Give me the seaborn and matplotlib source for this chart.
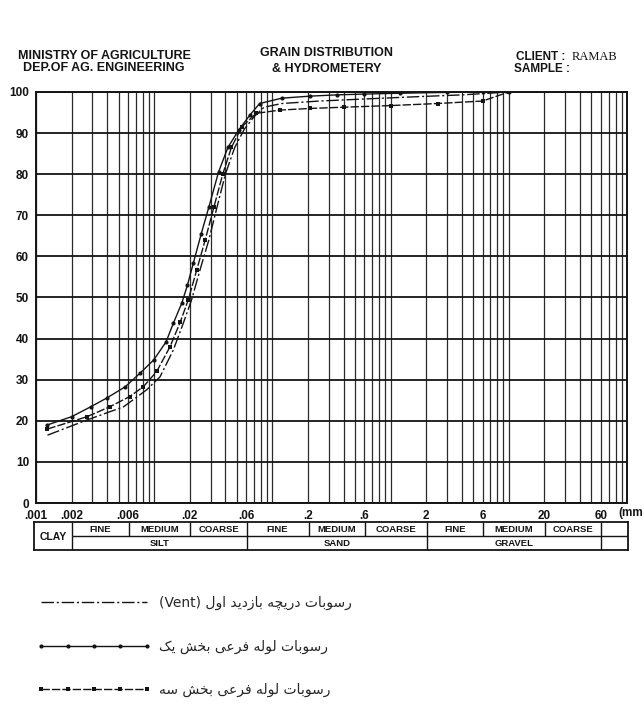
import numpy as np
import pandas as pd
import matplotlib
matplotlib.use('Agg')
import matplotlib.pyplot as plt
import seaborn as sns
from matplotlib import font_manager
from matplotlib.ft2font import FT2Font

# grain size (mm) and percent passing
vent_d = [0.00125, 0.0027, 0.0055, 0.0086, 0.0112, 0.0145, 0.0176, 0.0207, 0.0244, 0.029,
          0.034, 0.04, 0.048, 0.058, 0.07, 0.085, 0.12, 0.25, 0.6, 1.5, 4, 10]
vent_p = [16.5, 20.2, 23.4, 27.5, 30.7, 37.2, 43.7, 49.4, 56.7, 64,
          72, 80, 86.5, 91, 94, 96.3, 97.2, 97.8, 98.3, 98.8, 99.3, 100]

one_d = [0.00125, 0.002, 0.0029, 0.004, 0.0057, 0.0076, 0.0099, 0.0126, 0.0145, 0.0171,
         0.0191, 0.0214, 0.025, 0.029, 0.035, 0.042, 0.052, 0.065, 0.078, 0.12,
         0.21, 0.35, 0.6, 1.2, 3, 6, 10]
one_p = [19.0, 21.0, 23.4, 25.6, 28.3, 31.6, 34.8, 39.2, 43.7, 48.6,
         53.0, 58.3, 65.5, 72, 80.5, 86.5, 90.8, 94.5, 97.2, 98.5,
         99.0, 99.3, 99.5, 99.7, 99.9, 100, 100]

three_d = [0.00125, 0.0027, 0.0042, 0.0062, 0.0081, 0.0105, 0.0136, 0.0166, 0.0194, 0.0229,
           0.027, 0.032, 0.038, 0.045, 0.055, 0.073, 0.116, 0.21, 0.4, 1.0, 2.5, 6, 10]
three_p = [18.0, 21.0, 23.4, 25.9, 28.3, 32.0, 38.0, 44.0, 49.4, 56.7,
           64, 72, 80, 86.5, 91.5, 94.8, 95.6, 96.0, 96.3, 96.7, 97.2, 97.8, 100]

x_tick_vals = [0.001, 0.002, 0.006, 0.02, 0.06, 0.2, 0.6, 2, 6, 20, 60]
x_tick_text = ['.001', '.002', '.006', '.02', '.06', '.2', '.6', '2', '6', '20', '60']
y_ticks = list(range(0, 101, 10))

# classification table under the x axis
row1_edges = [0.001, 0.002, 0.006, 0.02, 0.06, 0.2, 0.6, 2, 6, 20, 60, 100]
row1_labels = ['', 'FINE', 'MEDIUM', 'COARSE', 'FINE', 'MEDIUM', 'COARSE', 'FINE', 'MEDIUM', 'COARSE', '']
row2_edges = [0.002, 0.06, 2, 60, 100]
row2_labels = ['SILT', 'SAND', 'GRAVEL', '']

leg_vent = 'رسوبات دریچه بازدید اول'
leg_one = 'رسوبات لوله فرعی بخش یک'
leg_three = 'رسوبات لوله فرعی بخش سه'

# --- minimal arabic/persian shaping (matplotlib does no shaping / bidi) ---
cmap = FT2Font(font_manager.findfont('DejaVu Sans')).get_charmap()
FORMS = {
    'ا': ('\uFE8D', '\uFE8E'), 'ب': ('\uFE8F', '\uFE90', '\uFE91', '\uFE92'),
    'ت': ('\uFE95', '\uFE96', '\uFE97', '\uFE98'), 'خ': ('\uFEA5', '\uFEA6', '\uFEA7', '\uFEA8'),
    'د': ('\uFEA9', '\uFEAA'), 'ر': ('\uFEAD', '\uFEAE'), 'ز': ('\uFEAF', '\uFEB0'),
    'س': ('\uFEB1', '\uFEB2', '\uFEB3', '\uFEB4'), 'ش': ('\uFEB5', '\uFEB6', '\uFEB7', '\uFEB8'),
    'ع': ('\uFEC9', '\uFECA', '\uFECB', '\uFECC'), 'ف': ('\uFED1', '\uFED2', '\uFED3', '\uFED4'),
    'ل': ('\uFEDD', '\uFEDE', '\uFEDF', '\uFEE0'), 'ه': ('\uFEE9', '\uFEEA', '\uFEEB', '\uFEEC'),
    'و': ('\uFEED', '\uFEEE'),
    'ی': ('\uFBFC', '\uFBFD', '\uFBFE', '\uFBFF'), 'چ': ('\uFB7A', '\uFB7B', '\uFB7C', '\uFB7D'),
    'ک': ('\uFB8E', '\uFB8F', '\uFB90', '\uFB91'),
}
FALLBACK = {
    'ی': ('\uFEEF', '\uFEF0', '\uFEF3', '\uFEF4'), 'چ': ('\uFE9D', '\uFE9E', '\uFE9F', '\uFEA0'),
    'ک': ('\uFED9', '\uFEDA', '\uFEDB', '\uFEDC'),
}
for k, v in FALLBACK.items():
    if any(ord(c) not in cmap for c in FORMS[k]):
        FORMS[k] = v
DUAL = set('بتخسشعفلهیچک')


def shape(text):
    out = []
    for i, ch in enumerate(text):
        if ch not in FORMS:
            out.append(ch)
            continue
        prev = text[i - 1] if i > 0 else ''
        nxt = text[i + 1] if i + 1 < len(text) else ''
        jp = prev in DUAL
        jn = ch in DUAL and nxt in FORMS
        f = FORMS[ch]
        if jp and jn:
            out.append(f[3])
        elif jp:
            out.append(f[1])
        elif jn:
            out.append(f[2])
        else:
            out.append(f[0])
    return ''.join(out)[::-1]


sns.set_style('white')
plt.rcParams['font.family'] = ['Liberation Sans', 'DejaVu Sans']
ink = '#141414'
W, H = 644, 711

fig = plt.figure(figsize=(6.44, 7.11), dpi=100)
ax = fig.add_axes([36 / W, 1 - 503 / H, (627 - 36) / W, (503 - 92) / H])

df_vent = pd.DataFrame({'d': vent_d, 'p': vent_p})
df_one = pd.DataFrame({'d': one_d, 'p': one_p})
df_three = pd.DataFrame({'d': three_d, 'p': three_p})

sns.lineplot(data=df_vent, x='d', y='p', ax=ax, color=ink, lw=1.0, estimator=None,
             linestyle=(0, (9, 2, 1.5, 2)), label='(Vent) ' + shape(leg_vent))
sns.lineplot(data=df_one, x='d', y='p', ax=ax, color=ink, lw=1.0, estimator=None,
             marker='o', markersize=3.0, markeredgewidth=0, label=shape(leg_one))
sns.lineplot(data=df_three, x='d', y='p', ax=ax, color=ink, lw=1.0, estimator=None,
             linestyle=(0, (6, 1.5)), marker='s', markersize=2.8, markeredgewidth=0,
             label=shape(leg_three))
handles, labels = ax.get_legend_handles_labels()
if ax.get_legend() is not None:
    ax.get_legend().remove()

ax.set_xscale('log')
ax.set_xlim(0.001, 100)
ax.set_ylim(0, 100)
grid_x = [k * 10.0 ** e for e in range(-3, 2) for k in range(1, 10)] + [100]
lab = dict(zip(x_tick_vals, x_tick_text))
ax.xaxis.set_major_locator(matplotlib.ticker.FixedLocator(grid_x))
ax.xaxis.set_minor_locator(matplotlib.ticker.NullLocator())
ax.set_xticklabels([next((t for v, t in lab.items() if abs(v - g) / g < 1e-6), '') for g in grid_x])
ax.set_yticks(y_ticks)
ax.set_yticklabels([str(v) for v in y_ticks])
ax.grid(True, axis='x', color='#2a2a2a', lw=0.9)
ax.grid(True, axis='y', color=ink, lw=1.3)
ax.tick_params(axis='both', direction='out', length=3.5, width=1.0, color=ink, pad=1.5,
               labelsize=8.5, labelcolor=ink)
for t in ax.get_xticklabels() + ax.get_yticklabels():
    t.set_fontweight('bold')
for s in ax.spines.values():
    s.set_color(ink)
    s.set_linewidth(1.4)
ax.set_xlabel('')
ax.set_ylabel('')
fig.text(0.999, 1 - 513 / H, '(mm', ha='right', va='center',
         fontsize=8.5, fontweight='bold', color=ink)

# table
tab = fig.add_axes([34 / W, 1 - 550 / H, (628 - 34) / W, 28 / H])
tab.set_xscale('log')
tab.set_xlim(0.00095, 101)
tab.set_ylim(0, 2)
tab.set_xticks([])
tab.set_yticks([])
tab.minorticks_off()
for s in tab.spines.values():
    s.set_color(ink)
    s.set_linewidth(1.3)
tab.hlines(1, 0.002, 101, color=ink, lw=1.0)
tab.vlines(row1_edges[1:-1], 1, 2, color=ink, lw=1.0)
tab.vlines(row2_edges[:-1], 0, 1, color=ink, lw=1.0)
for a, b, t in zip(row1_edges[:-1], row1_edges[1:], row1_labels):
    tab.text(np.sqrt(a * b), 1.5, t, ha='center', va='center', fontsize=6.8, fontweight='bold', color=ink)
for a, b, t in zip(row2_edges[:-1], row2_edges[1:], row2_labels):
    tab.text(np.sqrt(a * b), 0.45, t, ha='center', va='center', fontsize=6.8, fontweight='bold', color=ink)
tab.text(np.sqrt(0.00095 * 0.002), 0.95, 'CLAY', ha='center', va='center', fontsize=7.5,
         fontweight='bold', color=ink)

# header
hdr = dict(ha='center', va='center', fontsize=9, fontweight='bold', color=ink)
fig.text(104 / W, 1 - 56 / H, 'MINISTRY OF AGRICULTURE', **hdr)
fig.text(104 / W, 1 - 68 / H, 'DEP.OF AG. ENGINEERING', **hdr)
fig.text(327 / W, 1 - 53 / H, 'GRAIN DISTRIBUTION', **hdr)
fig.text(327 / W, 1 - 69 / H, '& HYDROMETERY', **hdr)
fig.text(516 / W, 1 - 57 / H, 'CLIENT :', ha='left', va='center', fontsize=8.5,
         fontweight='bold', color=ink)
fig.text(572 / W, 1 - 57 / H, 'RAMAB', ha='left', va='center', fontsize=9,
         family='Liberation Serif', color=ink)
fig.text(514 / W, 1 - 69 / H, 'SAMPLE :', ha='left', va='center', fontsize=8.5,
         fontweight='bold', color=ink)

fig.legend(handles, labels, loc='upper left', bbox_to_anchor=(37 / W, 1 - 596 / H),
           frameon=False, borderpad=0, borderaxespad=0, handlelength=8.2, handletextpad=0.6,
           numpoints=5, labelspacing=2.1, prop={'family': 'DejaVu Sans', 'size': 10})

fig.savefig('out.png', dpi=100, facecolor='white')
